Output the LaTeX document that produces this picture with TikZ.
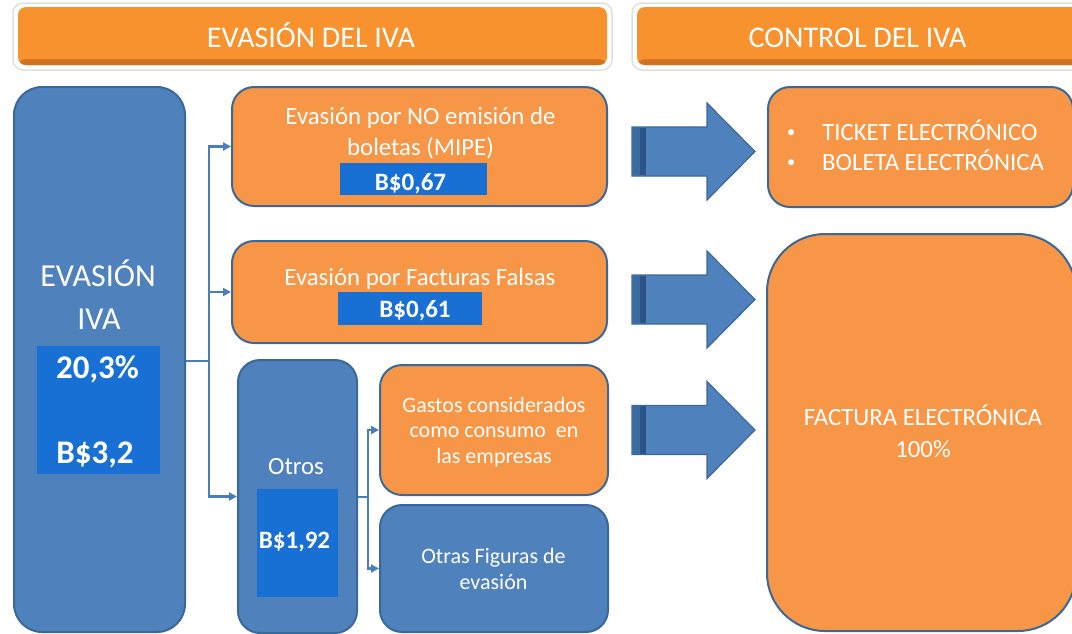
\documentclass[tikz,border=0pt]{standalone}
\usepackage{fontspec}
\setmainfont{Carlito}
\usetikzlibrary{arrows.meta}
\definecolor{obfill}{HTML}{F79646}
\definecolor{bfill}{HTML}{4F81BD}
\definecolor{bline}{HTML}{3A6899}
\definecolor{ifill}{RGB}{24,112,212}
\definecolor{hfill}{HTML}{F7922E}
\definecolor{hdark}{HTML}{D0701F}
\definecolor{stripeA}{HTML}{3B6AA0}
\definecolor{stripeB}{HTML}{2D5487}
\definecolor{conncol}{HTML}{4A7EBB}
\tikzset{
 mybox/.style={draw=bline, line width=2pt, rounded corners=22pt, inner sep=0pt},
 obox/.style={mybox, fill=obfill},
 bbox/.style={mybox, fill=bfill},
 ibox/.style={fill=ifill, inner sep=0pt},
 hbox/.style={fill=hfill, rounded corners=8pt, inner sep=0pt,
   path picture={\shade[top color=hfill, bottom color=hdark]
     (path picture bounding box.south west) rectangle ([yshift=6pt]path picture bounding box.south east);}},
 glow/.style={draw=black!12, line width=1.5pt, fill=white, rounded corners=10pt},
 lbl/.style={text=white, anchor=base, inner sep=0pt},
 lblw/.style={text=white, anchor=base west, inner sep=0pt},
 fh/.style={font=\fontsize{30}{36}\selectfont},
 fbig/.style={font=\fontsize{32}{38}\selectfont},
 fbigb/.style={font=\fontsize{33}{38}\selectfont\bfseries},
 fmid/.style={font=\fontsize{24.8}{29}\selectfont},
 fmidb/.style={font=\fontsize{25}{29}\selectfont\bfseries},
 fsm/.style={font=\fontsize{22}{26}\selectfont},
 fbul/.style={font=\fontsize{17}{20}\selectfont},
 conn/.style={draw=conncol, line width=2.3pt},
 connarr/.style={conn, -{Triangle[length=8pt,width=8pt]}},
 barrowstyle/.style={fill=bfill, draw=bline, line width=1.2pt},
 blockarrow/.pic={
   \path[barrowstyle] (0,-24.5) -- (75,-24.5) -- (75,-48.5) -- (123,0) -- (75,48.5) -- (75,24.5) -- (0,24.5) -- cycle;
   \fill[stripeA] (0.6,-23.9) rectangle (8,23.9);
   \fill[stripeB] (8,-23.9) rectangle (14,23.9);
 }
}
\begin{document}
\begin{tikzpicture}[x=1pt,y=-1pt]
\useasboundingbox (0,0) rectangle (1072,633);
\clip (0,0) rectangle (1072,633);

% headers
\path[glow] (13,3) rectangle (612,70);
\node[hbox, minimum width=589pt, minimum height=58pt] (H1) at (312.5,36) {};
\node[lbl, fh] (H1t) at (311,47) {EVASIÓN DEL IVA};
\path[glow] (632,3) rectangle (1100,70);
\node[hbox, minimum width=460pt, minimum height=58pt] (H2) at (867,36) {};
\node[lbl, fh] (H2t) at (857.5,47) {CONTROL DEL IVA};

% left big box
\node[bbox, rounded corners=28pt, minimum width=171pt, minimum height=545pt] (L) at (99.5,359.5) {};
\node[ibox, minimum width=123pt, minimum height=128pt] (L0) at (98.5,410) {};
\node[lbl, fbig] (Lt1) at (98,286) {EVASIÓN};
\node[lbl, fbig] (Lt2) at (99,329) {IVA};
\node[lbl, fbigb] (Lt3) at (97.5,378) {20,3\%};
\node[lbl, fbigb] (Lt4) at (95,463) {B\$3,2};

% box 1
\node[obox, minimum width=375pt, minimum height=119pt] (B1) at (419.5,146.5) {};
\node[ibox, minimum width=147pt, minimum height=32pt] (R1) at (413.5,179) {};
\node[lbl, fmid] (B1t1) at (420.5,124) {Evasión por NO emisión de};
\node[lbl, fmid] (B1t2) at (420.5,155) {boletas (MIPE)};
\node[lbl, fmidb] (B1v) at (410.5,190) {B\$0,67};

% box 2
\node[obox, minimum width=375pt, minimum height=102pt] (B2) at (419.5,292) {};
\node[ibox, minimum width=144pt, minimum height=33pt] (R2) at (410,308.5) {};
\node[lbl, fmid] (B2t) at (420,285) {Evasión por Facturas Falsas};
\node[lbl, fmidb] (B2v) at (415,317) {B\$0,61};

% otros
\node[bbox, minimum width=119pt, minimum height=273pt] (O) at (297.5,496.5) {};
\node[ibox, minimum width=81pt, minimum height=108pt] (R3) at (297.5,543) {};
\node[lbl, fmid] (Ot) at (296,474) {Otros};
\node[lbl, fmidb] (Ov) at (294.5,548) {B\$1,92};

% gastos / otras
\node[obox, minimum width=228pt, minimum height=130pt] (G) at (494,430) {};
\node[lbl, fsm] (Gt1) at (494,412) {Gastos considerados};
\node[lbl, fsm] (Gt2) at (494,437) {como consumo\ \ en};
\node[lbl, fsm] (Gt3) at (494,463) {las empresas};
\node[bbox, minimum width=228pt, minimum height=127pt] (F) at (494,568.5) {};
\node[lbl, fsm] (Ft1) at (493.5,563) {Otras Figuras de};
\node[lbl, fsm] (Ft2) at (493.5,589) {evasión};

% right boxes
\node[obox, minimum width=305pt, minimum height=120pt] (T) at (920.5,147) {};
\node[lbl, fbul] (Tb1) at (791,137) {•};
\node[lblw, fmid] (Tt1) at (822,140) {TICKET ELECTRÓNICO};
\node[lbl, fbul] (Tb2) at (791,167) {•};
\node[lblw, fmid] (Tt2) at (822,170) {BOLETA ELECTRÓNICA};
\node[obox, rounded corners=58pt, minimum width=309pt, minimum height=397pt] (FA) at (921.5,432.5) {};
\node[lbl, fmid] (FAt1) at (923,425) {FACTURA ELECTRÓNICA};
\node[lbl, fmid] (FAt2) at (923,457) {100\%};

% block arrows
\pic at (632,151.5) {blockarrow};
\pic at (632,299.5) {blockarrow};
\pic at (632,430) {blockarrow};

% connectors
\coordinate (j) at (209,361);
\draw[conn] (L.east |- j) -- (j);
\draw[connarr] (j) |- (B1.west);
\draw[connarr] (j) |- (B2.west);
\draw[connarr] (j) |- (O.west);
\coordinate (k) at (368,497);
\draw[conn] (O.east |- k) -- (k);
\draw[connarr] (k) |- (G.west);
\draw[connarr] (k) |- (F.west);
\end{tikzpicture}
\end{document}
